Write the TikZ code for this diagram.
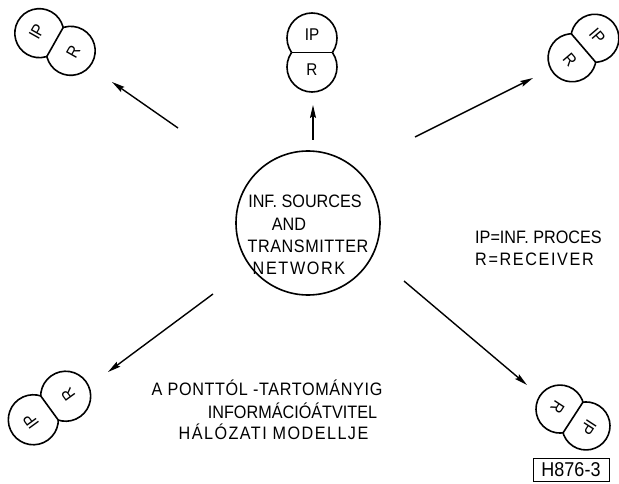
\documentclass[tikz,border=0pt]{standalone}
\usepackage{fontspec}
\setmainfont{Liberation Sans}[FakeStretch=0.9]
\usetikzlibrary{arrows.meta}

\tikzset{
  outline/.style={line width=1.6pt},
  flow/.style={line width=1.4pt, -{Stealth[length=13pt,width=6pt,inset=2pt]}},
  lettering/.style={font=\fontsize{18}{20}\selectfont, inner sep=0pt},
  unitlabel/.style={font=\fontsize{17}{19}\selectfont, inner sep=0pt},
  spaced/.style={font=\fontsize{18}{20}\selectfont\addfontfeature{LetterSpace=#1}},
  tagbox/.style={draw, line width=0.8pt, font=\fontsize{20}{22}\selectfont,
    inner sep=1.5pt, minimum width=76pt, minimum height=23pt},
}

% Receiver + processor pair: two overlapping discs with the common chord.
% #1 name, #2 x, #3 y, #4 rotation, #5 centre distance, #6 radius
\newcommand\unitpair[6]{%
  \begin{scope}[shift={(#2,#3)}, rotate=#4]
    \pgfmathsetmacro\pairh{sqrt(#6*#6-#5*#5/4)}
    \begin{scope}[even odd rule]
      \clip (-80,-90) rectangle (80,90) (0,#5/2) circle (#6);
      \draw[outline] (0,-#5/2) circle (#6);
    \end{scope}
    \begin{scope}[even odd rule]
      \clip (-80,-90) rectangle (80,90) (0,-#5/2) circle (#6);
      \draw[outline] (0,#5/2) circle (#6);
    \end{scope}
    \draw[outline] (-\pairh,0) -- (\pairh,0);
    \node[unitlabel, rotate=#4] (#1-ip) at (0,-#5/2-3) {IP};
    \node[unitlabel, rotate=#4] (#1-r) at (0,#5/2+3) {R};
  \end{scope}}

\begin{document}
\begin{tikzpicture}[x=1pt, y=-1pt]
  \useasboundingbox (0,0) rectangle (619,484);

  % central source network
  \node[draw, circle, outline, minimum size=144pt, inner sep=0pt] (hub) at (308,223) {};
  \node[lettering] (l1) at (305,201) {INF. SOURCES};
  \node[lettering] (l2) at (289,224) {AND};
  \node[lettering, spaced=3] (l3) at (308,246) {TRANSMITTER};
  \node[lettering, spaced=9] (l4) at (299,268) {NETWORK};

  % receiving units
  \unitpair{t}{312}{52.5}{0}{29}{25}
  \unitpair{tl}{55}{42}{60.6}{36}{24.5}
  \unitpair{tr}{583.5}{48}{-49.4}{30}{24}
  \unitpair{bl}{49.5}{408}{126}{40}{25}
  \unitpair{br}{573}{417.5}{-123}{31}{24}

  % transmission arrows
  \coordinate (a1s) at (178,128); \coordinate (a1e) at (112,82);
  \coordinate (a2s) at (313,140); \coordinate (a2e) at (313,105);
  \coordinate (a3s) at (415,137); \coordinate (a3e) at (533,78);
  \coordinate (a4s) at (213,294); \coordinate (a4e) at (108,372);
  \coordinate (a5s) at (404,281); \coordinate (a5e) at (527,385);
  \draw[flow] (a1s) -- (a1e);
  \draw[flow] (a2s) -- (a2e);
  \draw[flow] (a3s) -- (a3e);
  \draw[flow] (a4s) -- (a4e);
  \draw[flow] (a5s) -- (a5e);

  % legend
  \node[lettering, anchor=west] (k1) at (475,237) {IP=INF. PROCES};
  \node[lettering, spaced=9, anchor=west] (k2) at (475,259) {R=RECEIVER};

  % title
  \node[lettering, spaced=3.5] (c1) at (267,388) {A PONTTÓL -TARTOMÁNYIG};
  \node[lettering] (c2) at (292.5,411) {INFORMÁCIÓÁTVITEL};
  \node[lettering, spaced=8] (c3) at (273.5,432) {HÁLÓZATI MODELLJE};

  % drawing number
  \node[tagbox] (tag) at (571,469.5) {H876-3};
\end{tikzpicture}
\end{document}
